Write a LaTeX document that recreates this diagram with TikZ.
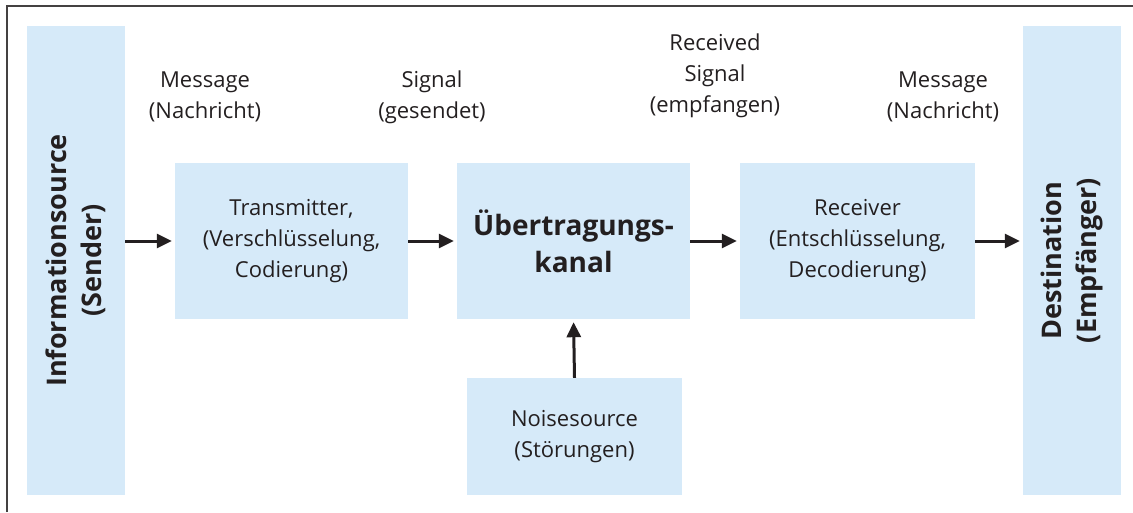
\documentclass[tikz,border=0pt]{standalone}
\usepackage{fontspec}
\setmainfont{Open Sans}
\usetikzlibrary{arrows.meta}
\definecolor{boxblue}{RGB}{214,234,249}
\definecolor{ink}{RGB}{35,31,32}
\tikzset{
  bluebox/.style={fill=boxblue, draw=none, inner sep=0pt, align=center, text=ink, font=\fontsize{22}{31}\selectfont},
  lbl/.style={align=center, text=ink, font=\fontsize{22}{31}\selectfont, inner sep=0pt},
  vlbl/.style={rotate=90, align=center, text=ink, font=\bfseries\fontsize{27}{35}\selectfont},
  flow/.style={-{Triangle[length=15pt,width=14pt]}, line width=3pt, draw=ink, shorten >=3pt}
}
\begin{document}
\begin{tikzpicture}[x=1pt,y=-1pt]
\useasboundingbox (0,0) rectangle (1133,512);
\draw[line width=1.8pt, draw=ink!85] (7,512) -- (7,6) -- (1133,6);
\node[bluebox, minimum width=98pt, minimum height=469pt] (src) at (76,260.5) {};
\node[vlbl] (srct) at (src.center) {Informationsource\\(Sender)};
\node[bluebox, minimum width=98pt, minimum height=469pt] (dst) at (1072,260.5) {};
\node[vlbl] (dstt) at (dst.center) {Destination\\(Empfänger)};
\node[bluebox, minimum width=233pt, minimum height=156pt] (tx) at (291.5,241) {Transmitter,\\(Verschlüsselung,\\Codierung)};
\node[bluebox, minimum width=233pt, minimum height=156pt, font=\bfseries\fontsize{28}{37}\selectfont] (ch) at (573.5,241) {Übertragungs-\\kanal};
\node[bluebox, minimum width=235pt, minimum height=156pt] (rx) at (857.5,241) {Receiver\\(Entschlüsselung,\\Decodierung)};
\node[bluebox, minimum width=215pt, minimum height=117pt] (noise) at (574.5,436.5) {Noisesource\\(Störungen)};
\node[lbl] (m1) at (205,97) {Message\\(Nachricht)};
\node[lbl] (s1) at (432,97) {Signal\\(gesendet)};
\node[lbl] (rs) at (715,76) {Received\\Signal\\(empfangen)};
\node[lbl] (m2) at (943,97) {Message\\(Nachricht)};
\draw[flow] (src.east |- tx.west) -- (tx.west);
\draw[flow] (tx.east) -- (ch.west);
\draw[flow] (ch.east) -- (rx.west);
\draw[flow] (rx.east) -- (dst.west |- rx.east);
\draw[flow] (noise.north) -- (ch.south);
\end{tikzpicture}
\end{document}
